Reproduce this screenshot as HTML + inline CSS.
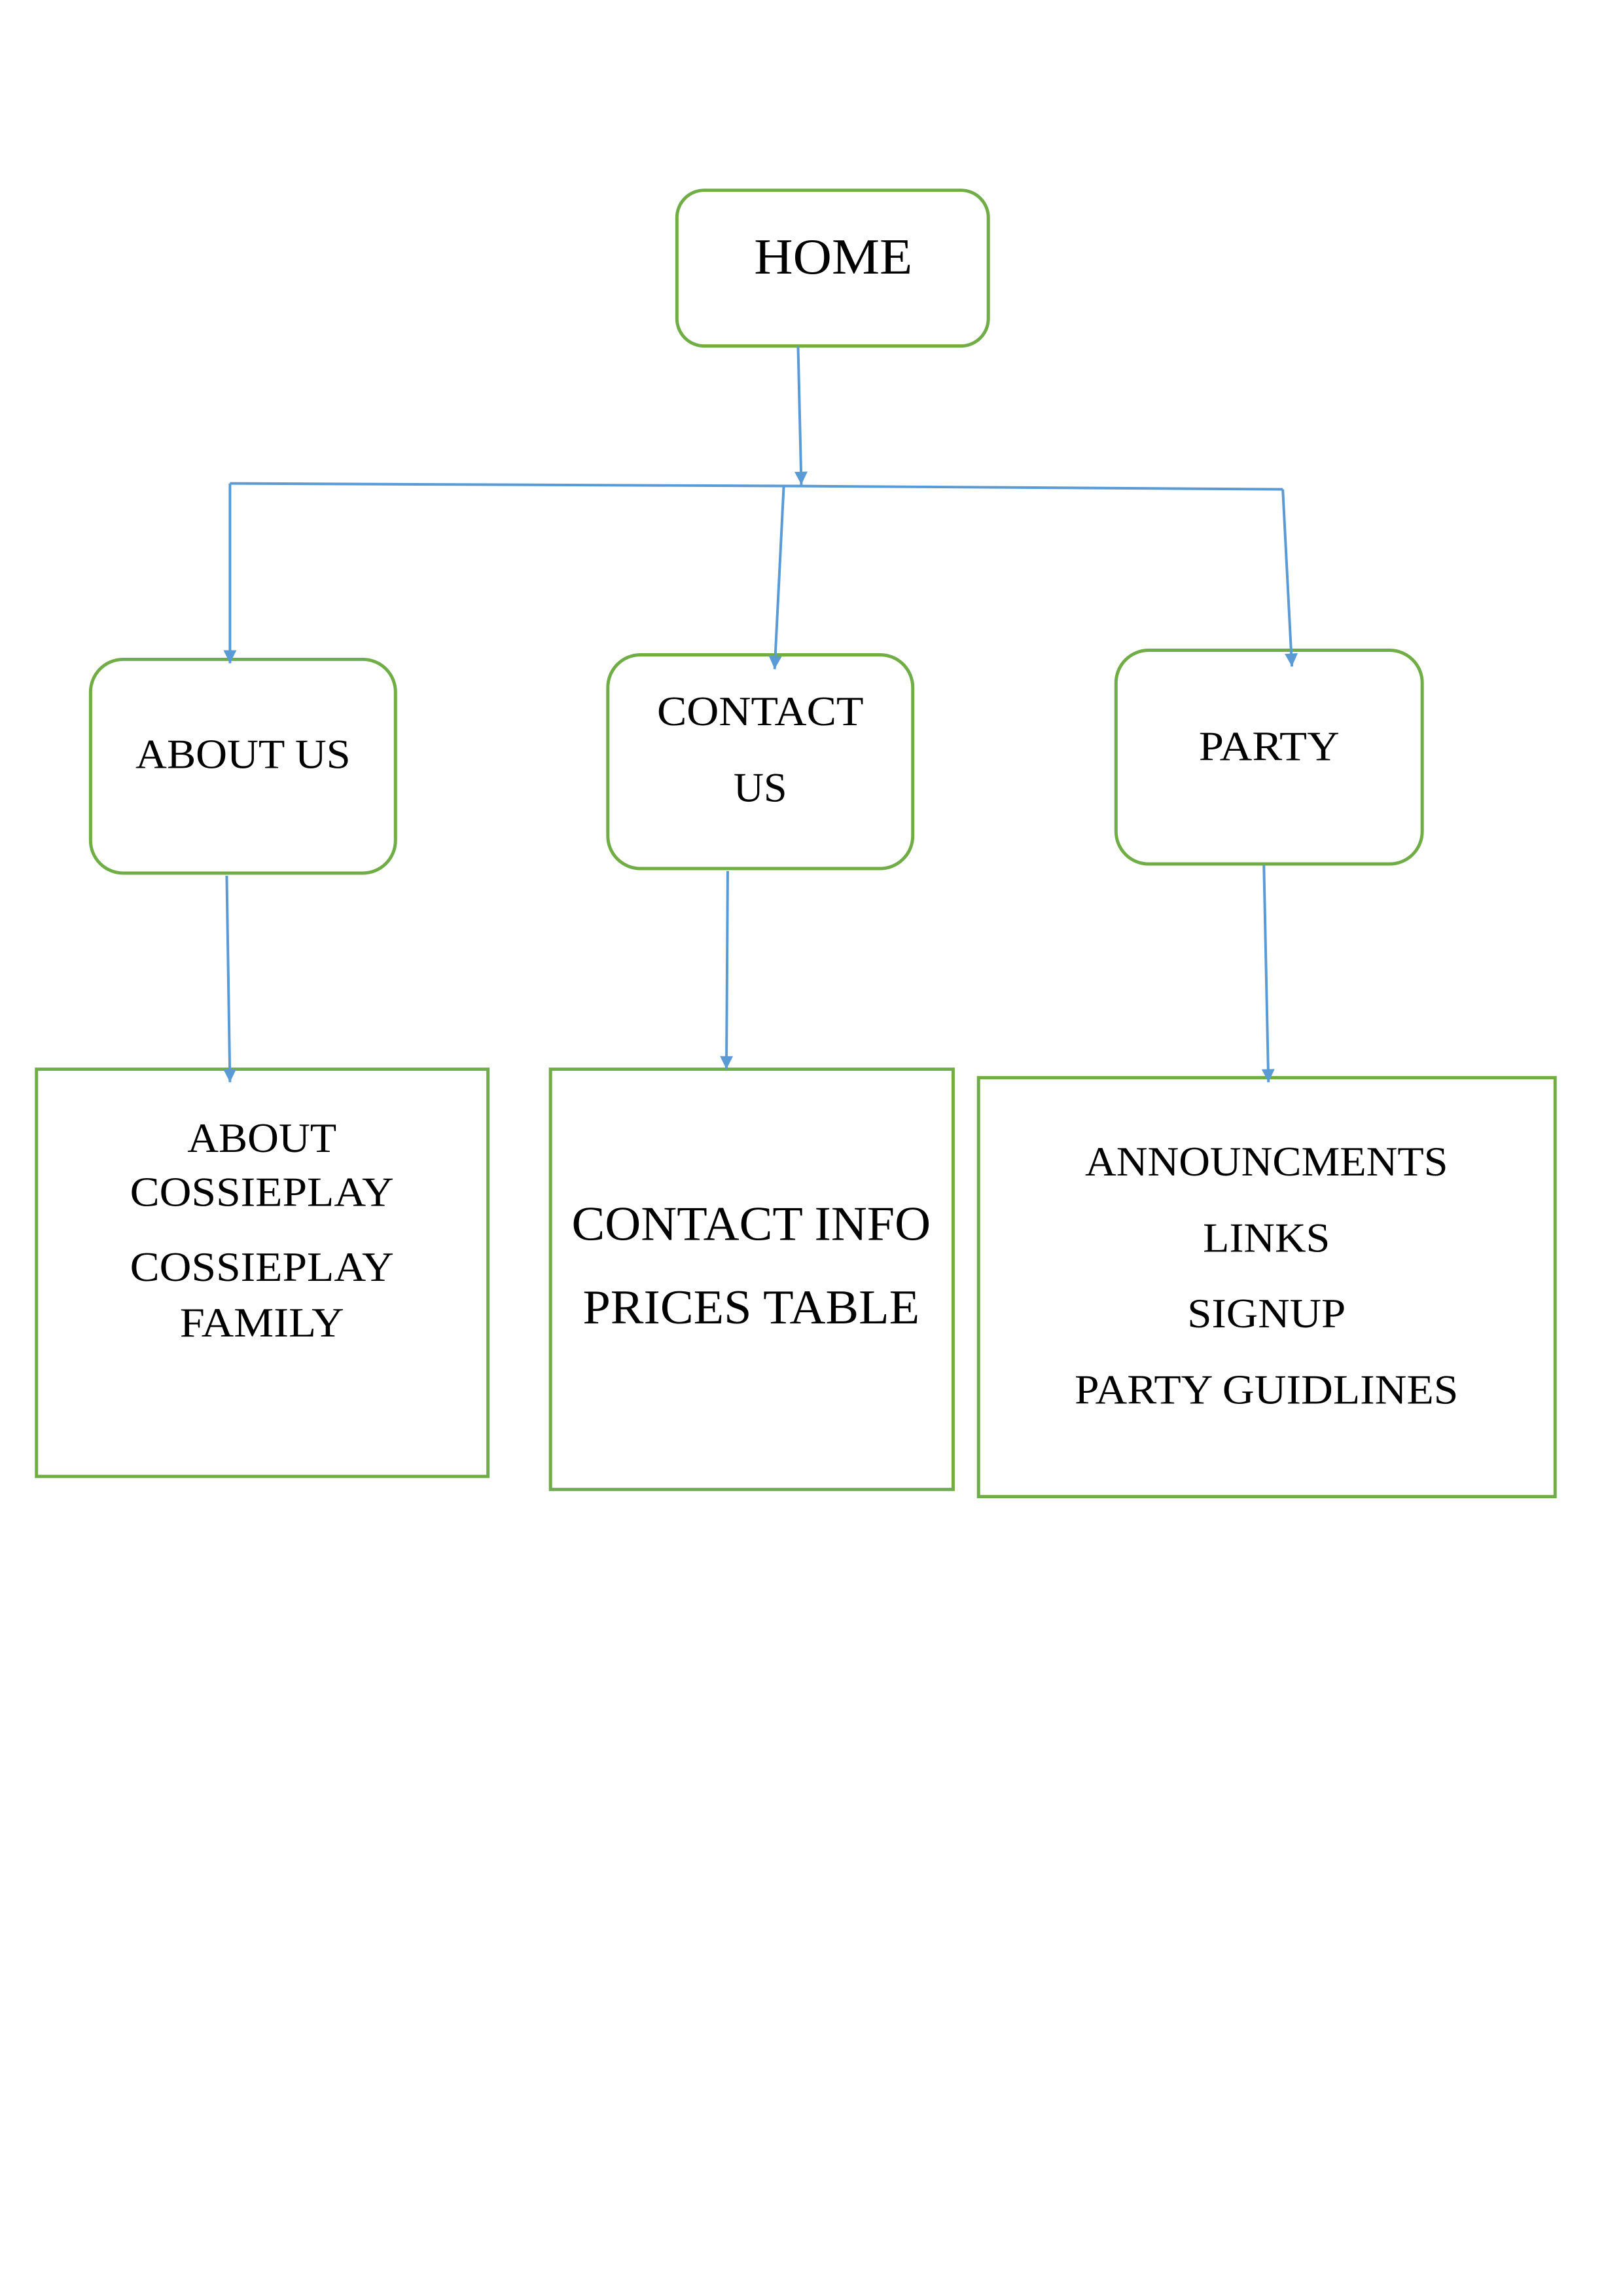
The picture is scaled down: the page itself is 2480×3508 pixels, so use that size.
<!DOCTYPE html>
<html><head><style>body{margin:0;background:#fff}svg{display:block}</style></head><body>
<svg width="2480" height="3508" viewBox="0 0 2480 3508" xmlns="http://www.w3.org/2000/svg" font-family="'Liberation Serif', serif" fill="#000">
<defs>
<marker id="b" viewBox="0 0 10 10" refX="10" refY="5" markerWidth="26" markerHeight="20" orient="auto" markerUnits="userSpaceOnUse"><path d="M0,0 L10,5 L0,10 z" fill="#5B9BD5"/></marker></defs>
<g transform="scale(0.9955)">
<g fill="none" stroke="#70AD47" stroke-width="5">
<rect x="1039" y="292" width="478" height="239" rx="42"/>
<rect x="139" y="1012" width="468" height="328" rx="50"/>
<rect x="933" y="1005" width="468" height="328" rx="50"/>
<rect x="1713" y="998" width="470" height="328" rx="50"/>
<rect x="56" y="1641" width="693" height="625"/>
<rect x="845" y="1641" width="618" height="645"/>
<rect x="1502" y="1654" width="885" height="643"/>
</g>
<g fill="none" stroke="#5B9BD5" stroke-width="4">
<line x1="1225" y1="531" x2="1230" y2="744" marker-end="url(#b)"/>
<polyline points="353,742 1230,746 1969,751"/>
<line x1="353" y1="742" x2="353" y2="1018" marker-end="url(#b)"/>
<line x1="1203" y1="746" x2="1189" y2="1027" marker-end="url(#b)"/>
<line x1="1969" y1="751" x2="1983" y2="1023" marker-end="url(#b)"/>
<line x1="348" y1="1344" x2="353" y2="1661" marker-end="url(#b)"/>
<line x1="1117" y1="1337" x2="1115" y2="1641" marker-end="url(#b)"/>
<line x1="1940" y1="1328" x2="1947" y2="1661" marker-end="url(#b)"/>
</g>
<g text-anchor="middle" font-size="78">
<text x="1279" y="420" textLength="243" lengthAdjust="spacingAndGlyphs">HOME</text>
</g>
<g text-anchor="middle" font-size="64">
<text x="373" y="1179" textLength="330" lengthAdjust="spacingAndGlyphs">ABOUT US</text>
<text x="1167" y="1113" textLength="317" lengthAdjust="spacingAndGlyphs">CONTACT</text>
<text x="1167" y="1230" textLength="82" lengthAdjust="spacingAndGlyphs">US</text>
<text x="1948" y="1167" textLength="216" lengthAdjust="spacingAndGlyphs">PARTY</text>
<text x="402" y="1768" textLength="229" lengthAdjust="spacingAndGlyphs">ABOUT</text>
<text x="402" y="1851" textLength="405" lengthAdjust="spacingAndGlyphs">COSSIEPLAY</text>
<text x="402" y="1966" textLength="405" lengthAdjust="spacingAndGlyphs">COSSIEPLAY</text>
<text x="402" y="2051" textLength="252" lengthAdjust="spacingAndGlyphs">FAMILY</text>
<text x="1944" y="1804" textLength="557" lengthAdjust="spacingAndGlyphs">ANNOUNCMENTS</text>
<text x="1944" y="1921" textLength="195" lengthAdjust="spacingAndGlyphs">LINKS</text>
<text x="1944" y="2037" textLength="243" lengthAdjust="spacingAndGlyphs">SIGNUP</text>
<text x="1944" y="2154" textLength="589" lengthAdjust="spacingAndGlyphs">PARTY GUIDLINES</text>
</g>
<g text-anchor="middle" font-size="74">
<text x="1153" y="1903" textLength="551" lengthAdjust="spacingAndGlyphs">CONTACT INFO</text>
<text x="1153" y="2031" textLength="517" lengthAdjust="spacingAndGlyphs">PRICES TABLE</text>
</g>
</g>
</svg>
</body></html>
